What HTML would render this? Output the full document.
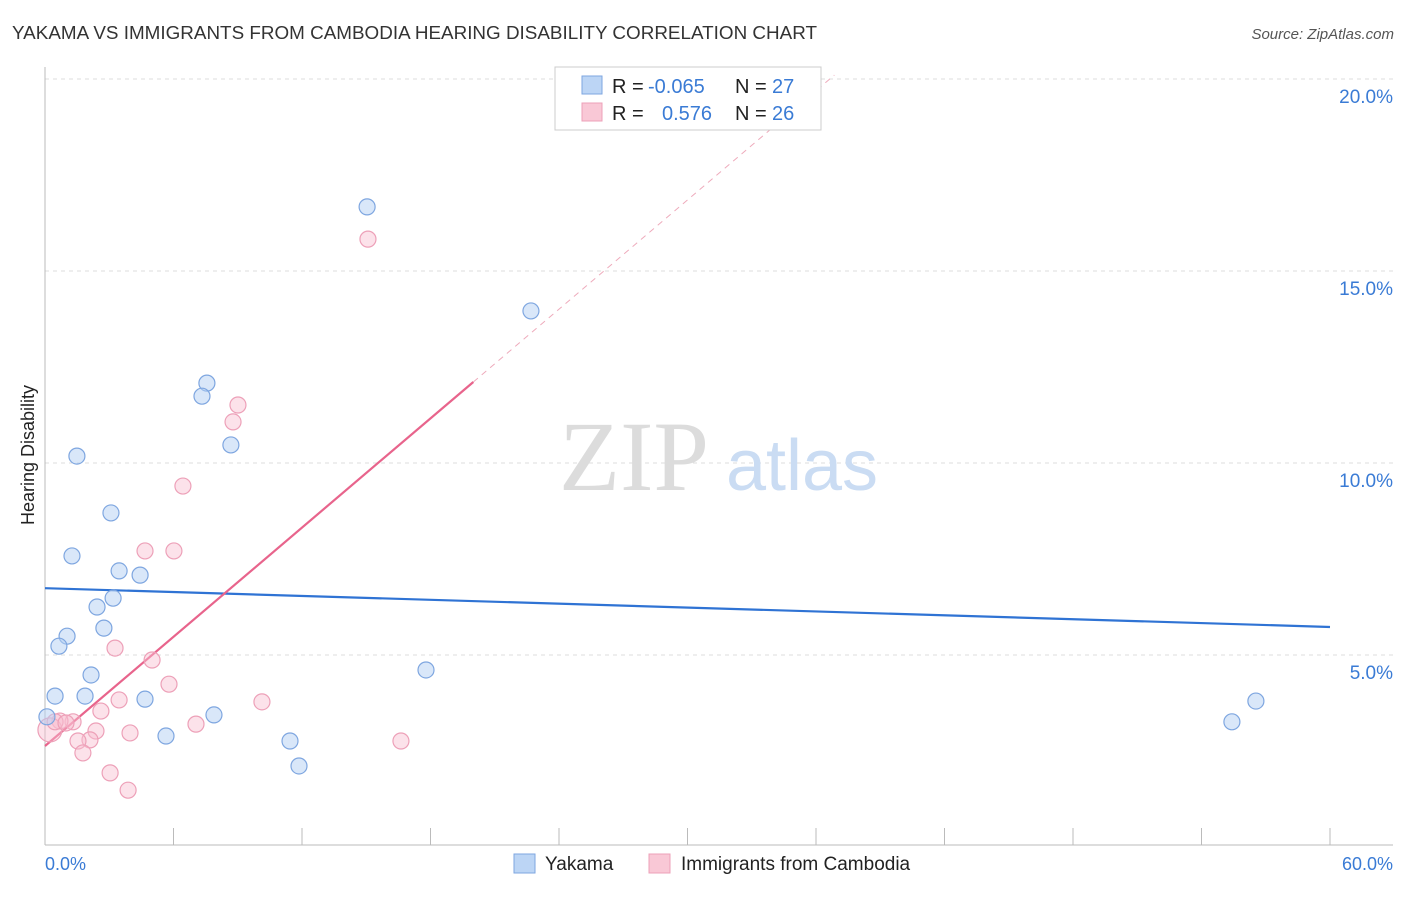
<!DOCTYPE html>
<html><head><meta charset="utf-8"><style>
body{margin:0;background:#fff;font-family:"Liberation Sans",sans-serif}
svg text{font-family:"Liberation Sans",sans-serif}
</style></head><body>
<svg width="1406" height="892" xmlns="http://www.w3.org/2000/svg">
<text x="12" y="39" font-size="18" fill="#333" textLength="805" lengthAdjust="spacingAndGlyphs">YAKAMA VS IMMIGRANTS FROM CAMBODIA HEARING DISABILITY CORRELATION CHART</text>
<text x="1394" y="39" font-size="15" fill="#555" font-style="italic" text-anchor="end">Source: ZipAtlas.com</text>
<g id="grid"></g>
<g><text x="634" y="490" font-size="100" fill="#dcdcdc" style="font-family:'Liberation Serif',serif" text-anchor="middle">ZIP</text><text x="802" y="490" font-size="72" fill="#cadcf3" text-anchor="middle">atlas</text></g>
<line x1="45" y1="67" x2="45" y2="845" stroke="#bbb"/>
<line x1="45" y1="845" x2="1393" y2="845" stroke="#bbb"/>
<text x="34" y="455" font-size="18" fill="#222" transform="rotate(-90 34 455)" text-anchor="middle">Hearing Disability</text>
<text x="45" y="870" font-size="18" fill="#3a7bd5">0.0%</text>
<text x="1393" y="870" font-size="18" fill="#3a7bd5" text-anchor="end">60.0%</text>
<g id="trends"></g>
<g id="points"></g>
<g>
<rect x="555" y="67" width="266" height="63" fill="#fff" stroke="#ccc"/>
<rect x="582" y="76" width="20" height="18" fill="#bcd5f5" stroke="#7ea6e0"/>
<rect x="582" y="103" width="20" height="18" fill="#f9c8d6" stroke="#eda0b8"/>
<text y="93" font-size="20" fill="#222"><tspan x="612">R =</tspan><tspan x="648" fill="#3a7bd5">-0.065</tspan><tspan x="735">N =</tspan><tspan x="772" fill="#3a7bd5">27</tspan></text>
<text y="120" font-size="20" fill="#222"><tspan x="612">R =</tspan><tspan x="662" fill="#3a7bd5">0.576</tspan><tspan x="735">N =</tspan><tspan x="772" fill="#3a7bd5">26</tspan></text>
</g>
<g>
<rect x="514" y="854" width="21" height="19" fill="#bcd5f5" stroke="#7ea6e0"/>
<text x="545" y="870" font-size="19" fill="#222">Yakama</text>
<rect x="649" y="854" width="21" height="19" fill="#f9c8d6" stroke="#eda0b8"/>
<text x="681" y="870" font-size="19" fill="#222">Immigrants from Cambodia</text>
</g>
</svg>
<script>
const yTicks=[5,10,15,20];
const yakX=[15.04,22.69,7.56,7.33,8.68,1.49,3.08,1.26,3.46,4.44,3.18,2.43,2.75,1.03,0.65,2.15,0.47,1.87,4.67,17.79,7.89,5.65,11.44,11.86,56.54,55.42,0.09];
const yakY=[16.67,13.96,12.08,11.74,10.47,10.18,8.70,7.58,7.19,7.08,6.48,6.25,5.70,5.49,5.23,4.48,3.93,3.93,3.85,4.61,3.44,2.89,2.76,2.11,3.80,3.26,3.39];
const camX=[15.08,9.01,8.78,6.44,4.67,6.02,3.27,5.0,5.79,3.46,10.13,2.61,7.05,1.31,0.70,2.38,3.97,2.10,1.54,1.77,16.62,3.04,3.88,0.23,0.47,0.98];
const camY=[15.83,11.51,11.07,9.40,7.71,7.71,5.18,4.87,4.24,3.83,3.78,3.54,3.20,3.26,3.28,3.02,2.97,2.79,2.76,2.45,2.76,1.93,1.48,3.05,3.26,3.23];
const yakTrend=[6.74,5.73]; // at x=0 and x=60
const camTrend=[2.63,0.474]; // intercept, slope
const NS="http://www.w3.org/2000/svg";
const sx=v=>45+v/60*1285, sy=v=>847-v*38.4;
function mk(t,a,p){const e=document.createElementNS(NS,t);for(const k in a)e.setAttribute(k,a[k]);p.appendChild(e);return e;}
const grid=document.getElementById('grid');
yTicks.forEach(t=>{
 const l=mk('line',{x1:45,x2:1393,y1:sy(t),y2:sy(t),stroke:'#ddd','stroke-dasharray':'4,4'},grid);
 
 
 const tx=mk('text',{x:1393,y:sy(t)+24,'font-size':19,fill:'#3a7bd5','text-anchor':'end'},grid);
 tx.textContent=t.toFixed(1)+'%';
 
 
});
for(let i=0;i<=10;i++){
 const l=mk('line',{x1:sx(i*6),x2:sx(i*6),y1:828,y2:845,stroke:'#bbb'},grid);
 
 
}
const tr=document.getElementById('trends');
const bl=mk('line',{x1:sx(0),y1:sy(yakTrend[0]),x2:sx(60),y2:sy(yakTrend[1]),stroke:'#2f73d4','stroke-width':2.2},tr);


const pl=mk('line',{x1:sx(0),y1:sy(camTrend[0]),x2:sx(20),y2:sy(camTrend[0]+camTrend[1]*20),stroke:'#e8648c','stroke-width':2.2},tr);


const xe=(20.1-camTrend[0])/camTrend[1];
const pd=mk('line',{x1:sx(20),y1:sy(camTrend[0]+camTrend[1]*20),x2:sx(xe),y2:sy(20.1),stroke:'#eeaabb','stroke-width':1,'stroke-dasharray':'6,5'},tr);


const pts=document.getElementById('points');
camX.forEach((x,i)=>{
 const c=mk('circle',{cx:sx(x),cy:sy(camY[i]),r:i==23?12:8,fill:'rgba(248,190,208,0.45)',stroke:'#eda0b8','stroke-width':1.2},pts);
 
 
});
yakX.forEach((x,i)=>{
 const c=mk('circle',{cx:sx(x),cy:sy(yakY[i]),r:8,fill:'rgba(180,207,244,0.5)',stroke:'#7ea6e0','stroke-width':1.2},pts);
 
 
});
</script>
</body></html>
